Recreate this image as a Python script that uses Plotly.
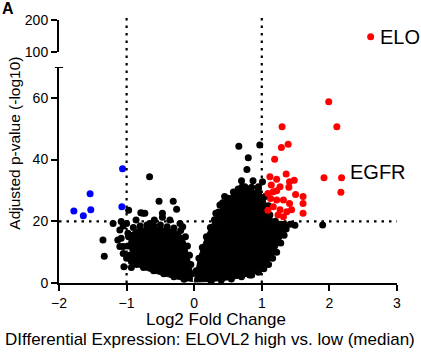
import plotly.graph_objects as go

FONT = "Liberation Sans, Arial, sans-serif"

# ---- data ----
# dense core of non-significant genes (outline of the solid black mass)
core_left_x = [-0.02, -0.15, -0.3, -0.45, -0.6, -0.75, -0.85, -0.92, -0.95, -0.97, -0.95, -0.85, -0.7, -0.5, -0.35, -0.22, -0.14, -0.1, -0.07, -0.04, -0.02]
core_left_y = [0.5, 0.8, 1.5, 2.3, 3.3, 4.5, 5.5, 7, 10, 13, 16, 17.5, 18, 18, 17.5, 16.5, 14, 11, 8, 5, 2]
core_right_x = [0.0, 0.02, 0.06, 0.12, 0.18, 0.27, 0.37, 0.45, 0.57, 0.67, 0.82, 0.97, 1.05, 1.1, 1.2, 1.38, 1.28, 1.2, 1.1, 1.0, 0.9, 0.72, 0.5, 0.25, 0.0]
core_right_y = [0.3, 3, 8, 12, 15.5, 19.5, 23.5, 26.5, 29, 30.5, 30, 30, 27, 22.5, 19.5, 17.5, 14, 10, 6.5, 4.5, 3, 1.8, 1.0, 0.5, 0.3]

# individual non-significant genes
black_x = [-1.35, -1.33, -1.20, -1.13, -1.05, -1.0, -1.04, -0.93, -0.98, -1.08, -1.0, -0.97, -0.76, -0.79, -0.73, -0.66,
           -0.52, -0.31, -0.26, -0.47, -0.47, -0.59, -0.36, -0.21, -0.17, -0.66, -0.86, -1.05, -1.10, -1.08, -1.10, -1.05,
           -0.9, -0.8, -0.7, -0.6, -0.5, -0.4, -0.3, -0.2, -0.13, -0.1, -0.07, -0.05, -0.03, -0.97, -0.98, -0.96, -0.93,
           -0.85, -0.75, -0.6, -0.45, -0.3, -0.15,
           0.66, 0.97, 0.80, 0.78, 0.70, 0.87, 1.01, 0.71, 0.75, 0.95, 0.77, 1.33, 1.42, 1.49, 1.90, 0.82, 0.45, 0.38, 0.32,
           0.03, 0.07, 0.12, 0.18, 0.24, 0.3, 0.36, 0.42, 0.5, 0.58, 0.65, 0.74, 0.85, 0.95, 1.05, 1.1, 1.12, 1.2, 1.28,
           1.36, 1.33, 1.28, 1.22, 1.16, 1.1, 1.03, 0.95, 0.85, 0.7, 0.55, 0.4, 0.25]
black_y = [13.9, 8.7, 19.3, 13.9, 11.8, 8.0, 5.3, 5.0, 16.1, 19.9, 19.3, 23.6, 22.6, 22.8, 22.6, 34.4,
           26.5, 26.5, 23.9, 22.6, 21.3, 20.4, 20.4, 19.3, 18.2, 19.3, 20.4, 18.5, 17.2, 14.5, 11.8, 9.6,
           18, 18.5, 18.8, 18.6, 18.8, 18.2, 17.8, 17, 15, 12, 9, 6, 3, 15, 12, 9, 7,
           6, 5, 4, 3, 2, 1.2,
           44.3, 44.7, 40.6, 36.8, 33.1, 33.1, 32.8, 31.2, 31.2, 31.2, 30.7, 19.0, 19.0, 18.7, 18.8, 2.6, 28, 25.3, 22.6,
           4, 8, 11.5, 15, 18, 20.5, 23, 26, 27.5, 29.5, 30.5, 31, 31, 30.5, 28, 25, 22, 20, 19,
           17.5, 15.5, 13, 10, 8, 6, 4.6, 3.5, 2.6, 2, 1.3, 0.9, 0.6]

# significantly down (blue)
down_x = [-1.78, -1.64, -1.53, -1.54, -1.07, -1.06]
down_y = [23.3, 21.8, 23.7, 28.9, 24.7, 37.0]

# significantly up (red)
up_x = [1.99, 1.30, 2.11, 1.39, 1.29, 1.19, 1.92, 2.18, 2.17, 1.36, 1.12, 1.22, 1.48, 1.41, 1.40, 1.50, 1.61, 1.61,
        1.61, 1.14, 1.17, 1.27, 1.22, 1.32, 1.17, 1.27, 1.37, 1.44, 1.41, 1.32, 1.24, 1.09, 1.13, 1.09, 1.22]
up_y = [58.7, 50.6, 50.6, 45.0, 43.9, 40.1, 34.1, 34.1, 29.4, 35.3, 34.4, 33.6, 33.3, 32.8, 31.0, 28.7, 28.0, 25.8,
        22.6, 31.8, 29.6, 31.2, 26.9, 26.9, 24.7, 23.7, 23.1, 23.7, 25.8, 21.5, 22.0, 29.0, 27.4, 23.6, 29.9]

# ELOVL2 itself (upper broken segment)
elo_x = [2.61]
elo_y = [148]
egfr_x = 2.18
egfr_y = 34.1

fc_cut = [-1, 1]
p_cut = 20
x_ticks = [-2, -1, 0, 1, 2, 3]
y_ticks_low = [0, 20, 40, 60]
y_ticks_high = [100, 200]

fig = go.Figure()
for cx, cy in [(core_left_x, core_left_y), (core_right_x, core_right_y)]:
    fig.add_trace(go.Scatter(x=cx, y=cy, mode="lines", fill="toself", fillcolor="black",
                             line=dict(color="black", width=1), hoverinfo="skip"))
mk = dict(size=7, line=dict(width=0))
fig.add_trace(go.Scatter(x=black_x, y=black_y, mode="markers", marker=dict(color="black", **mk)))
fig.add_trace(go.Scatter(x=down_x, y=down_y, mode="markers", marker=dict(color="#0000ff", **mk)))
fig.add_trace(go.Scatter(x=up_x, y=up_y, mode="markers", marker=dict(color="#ff0000", **mk)))
fig.add_trace(go.Scatter(x=elo_x, y=elo_y, mode="markers", marker=dict(color="#ff0000", **mk), yaxis="y2"))

axis_common = dict(showline=True, linecolor="black", linewidth=2, ticks="outside", ticklen=6, tickwidth=2,
                   tickcolor="black", showgrid=False, zeroline=False,
                   tickfont=dict(family=FONT, size=14, color="black"))

fig.update_layout(
    width=421, height=354, margin=dict(l=59, r=24, t=20, b=71),
    plot_bgcolor="white", paper_bgcolor="white", showlegend=False,
    xaxis=dict(range=[-2, 3], tickvals=x_ticks, **axis_common),
    yaxis=dict(domain=[0, 0.8213], range=[0, 70], tickvals=y_ticks_low, **axis_common),
    yaxis2=dict(domain=[0.8783, 1], range=[100, 200], tickvals=y_ticks_high, anchor="x", **axis_common),
)

dot = dict(color="black", width=2.2, dash="2.5px,5px")
shapes = []
for v in fc_cut:
    shapes.append(dict(type="line", xref="x", yref="paper", x0=v, x1=v, y0=0, y1=1.01, line=dot, layer="below"))
shapes.append(dict(type="line", xref="x", yref="y", x0=-2, x1=3, y0=p_cut, y1=p_cut, line=dot, layer="below"))
shapes.append(dict(type="line", xref="paper", yref="y", x0=-0.012, x1=0.012, y0=70, y1=70,
                   line=dict(color="black", width=2)))
fig.update_layout(shapes=shapes)

tf = dict(family=FONT, color="black")
fig.add_annotation(x=elo_x[0], y=elo_y[0], yref="y2", text="ELO", showarrow=False, xanchor="left", xshift=7,
                   font=dict(size=20, **tf))
fig.add_annotation(x=egfr_x, y=egfr_y, text="EGFR", showarrow=False, xanchor="left", xshift=6, yshift=6,
                   font=dict(size=20, **tf))
fig.add_annotation(xref="paper", yref="paper", x=0.4645, y=-0.137, text="Log2 Fold Change", showarrow=False,
                   xanchor="center", yanchor="middle", font=dict(size=17, **tf))
fig.add_annotation(xref="paper", yref="paper", x=0.448, y=-0.213,
                   text="DIfferential Expression: ELOVL2 high vs. low (median)", showarrow=False,
                   xanchor="center", yanchor="middle", font=dict(size=17, **tf))
fig.add_annotation(xref="paper", yref="paper", x=-0.130, y=0.530, text="Adjusted p-value (-log10)",
                   textangle=-90, showarrow=False, xanchor="center", yanchor="middle", font=dict(size=15.5, **tf))
fig.add_annotation(xref="paper", yref="paper", x=-0.1746, y=1.045, text="<b>A</b>", showarrow=False,
                   xanchor="left", yanchor="middle", font=dict(size=16, **tf))

fig.write_html("out.html")
